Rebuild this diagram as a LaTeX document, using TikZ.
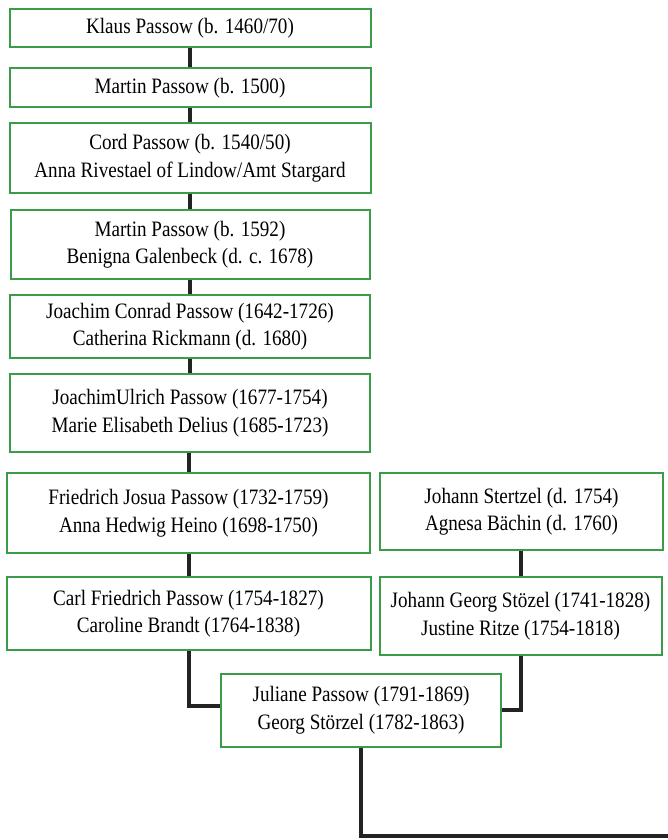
\documentclass[tikz,border=0pt]{standalone}
\usepackage{fontspec}
\setmainfont{Liberation Serif}[FakeStretch=0.87]
\usepackage{xcolor}
\usepackage{tikz}
\definecolor{boxgreen}{RGB}{58, 155, 72}
\definecolor{linkgray}{RGB}{35, 35, 35}

\begin{document}
\begin{tikzpicture}[x=1pt, y=-1pt,
    person/.style={rectangle, draw=boxgreen, line width=2pt, fill=white,
                   inner sep=0pt, align=center,
                   font=\fontsize{22}{27.5}\selectfont},
    link/.style={line width=4pt, color=linkgray}]

    \useasboundingbox[fill=white] (0,0) rectangle (668,840);

    % Passow line
    \node[person, minimum width=361pt, minimum height=38pt] (klaus) at (190, 28.5)
        {Klaus Passow (b. 1460/70)};
    \node[person, minimum width=361pt, minimum height=39pt] (martinA) at (190, 88)
        {Martin Passow (b. 1500)};
    \node[person, minimum width=361pt, minimum height=70pt] (cord) at (190, 158)
        {Cord Passow (b. 1540/50)\\ Anna Rivestael of Lindow/Amt Stargard};
    \node[person, minimum width=359pt, minimum height=69pt] (martinB) at (190, 244.5)
        {Martin Passow (b. 1592)\\ Benigna Galenbeck (d. c. 1678)};
    \node[person, minimum width=360pt, minimum height=63pt] (joachim) at (190, 326.5)
        {Joachim Conrad Passow (1642-1726)\\ Catherina Rickmann (d. 1680)};
    \node[person, minimum width=360pt, minimum height=78pt] (ulrich) at (190, 413)
        {JoachimUlrich Passow (1677-1754)\\ Marie Elisabeth Delius (1685-1723)};
    \node[person, minimum width=363pt, minimum height=80pt] (friedrich) at (188.5, 513)
        {Friedrich Josua Passow (1732-1759)\\ Anna Hedwig Heino (1698-1750)};
    \node[person, minimum width=364pt, minimum height=73pt] (carl) at (188.5, 613.5)
        {Carl Friedrich Passow (1754-1827)\\ Caroline Brandt (1764-1838)};

    % Stertzel line
    \node[person, minimum width=283pt, minimum height=77pt] (stertzel) at (521.5, 511.5)
        {Johann Stertzel (d. 1754)\\ Agnesa Bächin (d. 1760)};
    \node[person, minimum width=282pt, minimum height=78pt] (georg) at (520.5, 616)
        {Johann Georg Stözel (1741-1828)\\ Justine Ritze (1754-1818)};

    % Couple
    \node[person, minimum width=280pt, minimum height=73pt] (juliane) at (361, 710)
        {Juliane Passow (1791-1869)\\ Georg Störzel (1782-1863)};
    \coordinate (next) at (668, 836);

    % Connectors
    \draw[link] (klaus) -- (martinA);
    \draw[link] (martinA) -- (cord);
    \draw[link] (cord) -- (martinB);
    \draw[link] (martinB) -- (joachim);
    \draw[link] (joachim) -- (ulrich);
    \draw[link] (ulrich.south -| friedrich.north) -- (friedrich.north);
    \draw[link] (friedrich) -- (carl);
    \draw[link] (stertzel.south -| georg.north) -- (georg.north);
    \draw[link] (carl.south) |- ([yshift=4pt]juliane.west);
    \draw[link] (georg.south) |- (juliane.east);
    \draw[link] (juliane.south) |- (next);
\end{tikzpicture}
\end{document}
